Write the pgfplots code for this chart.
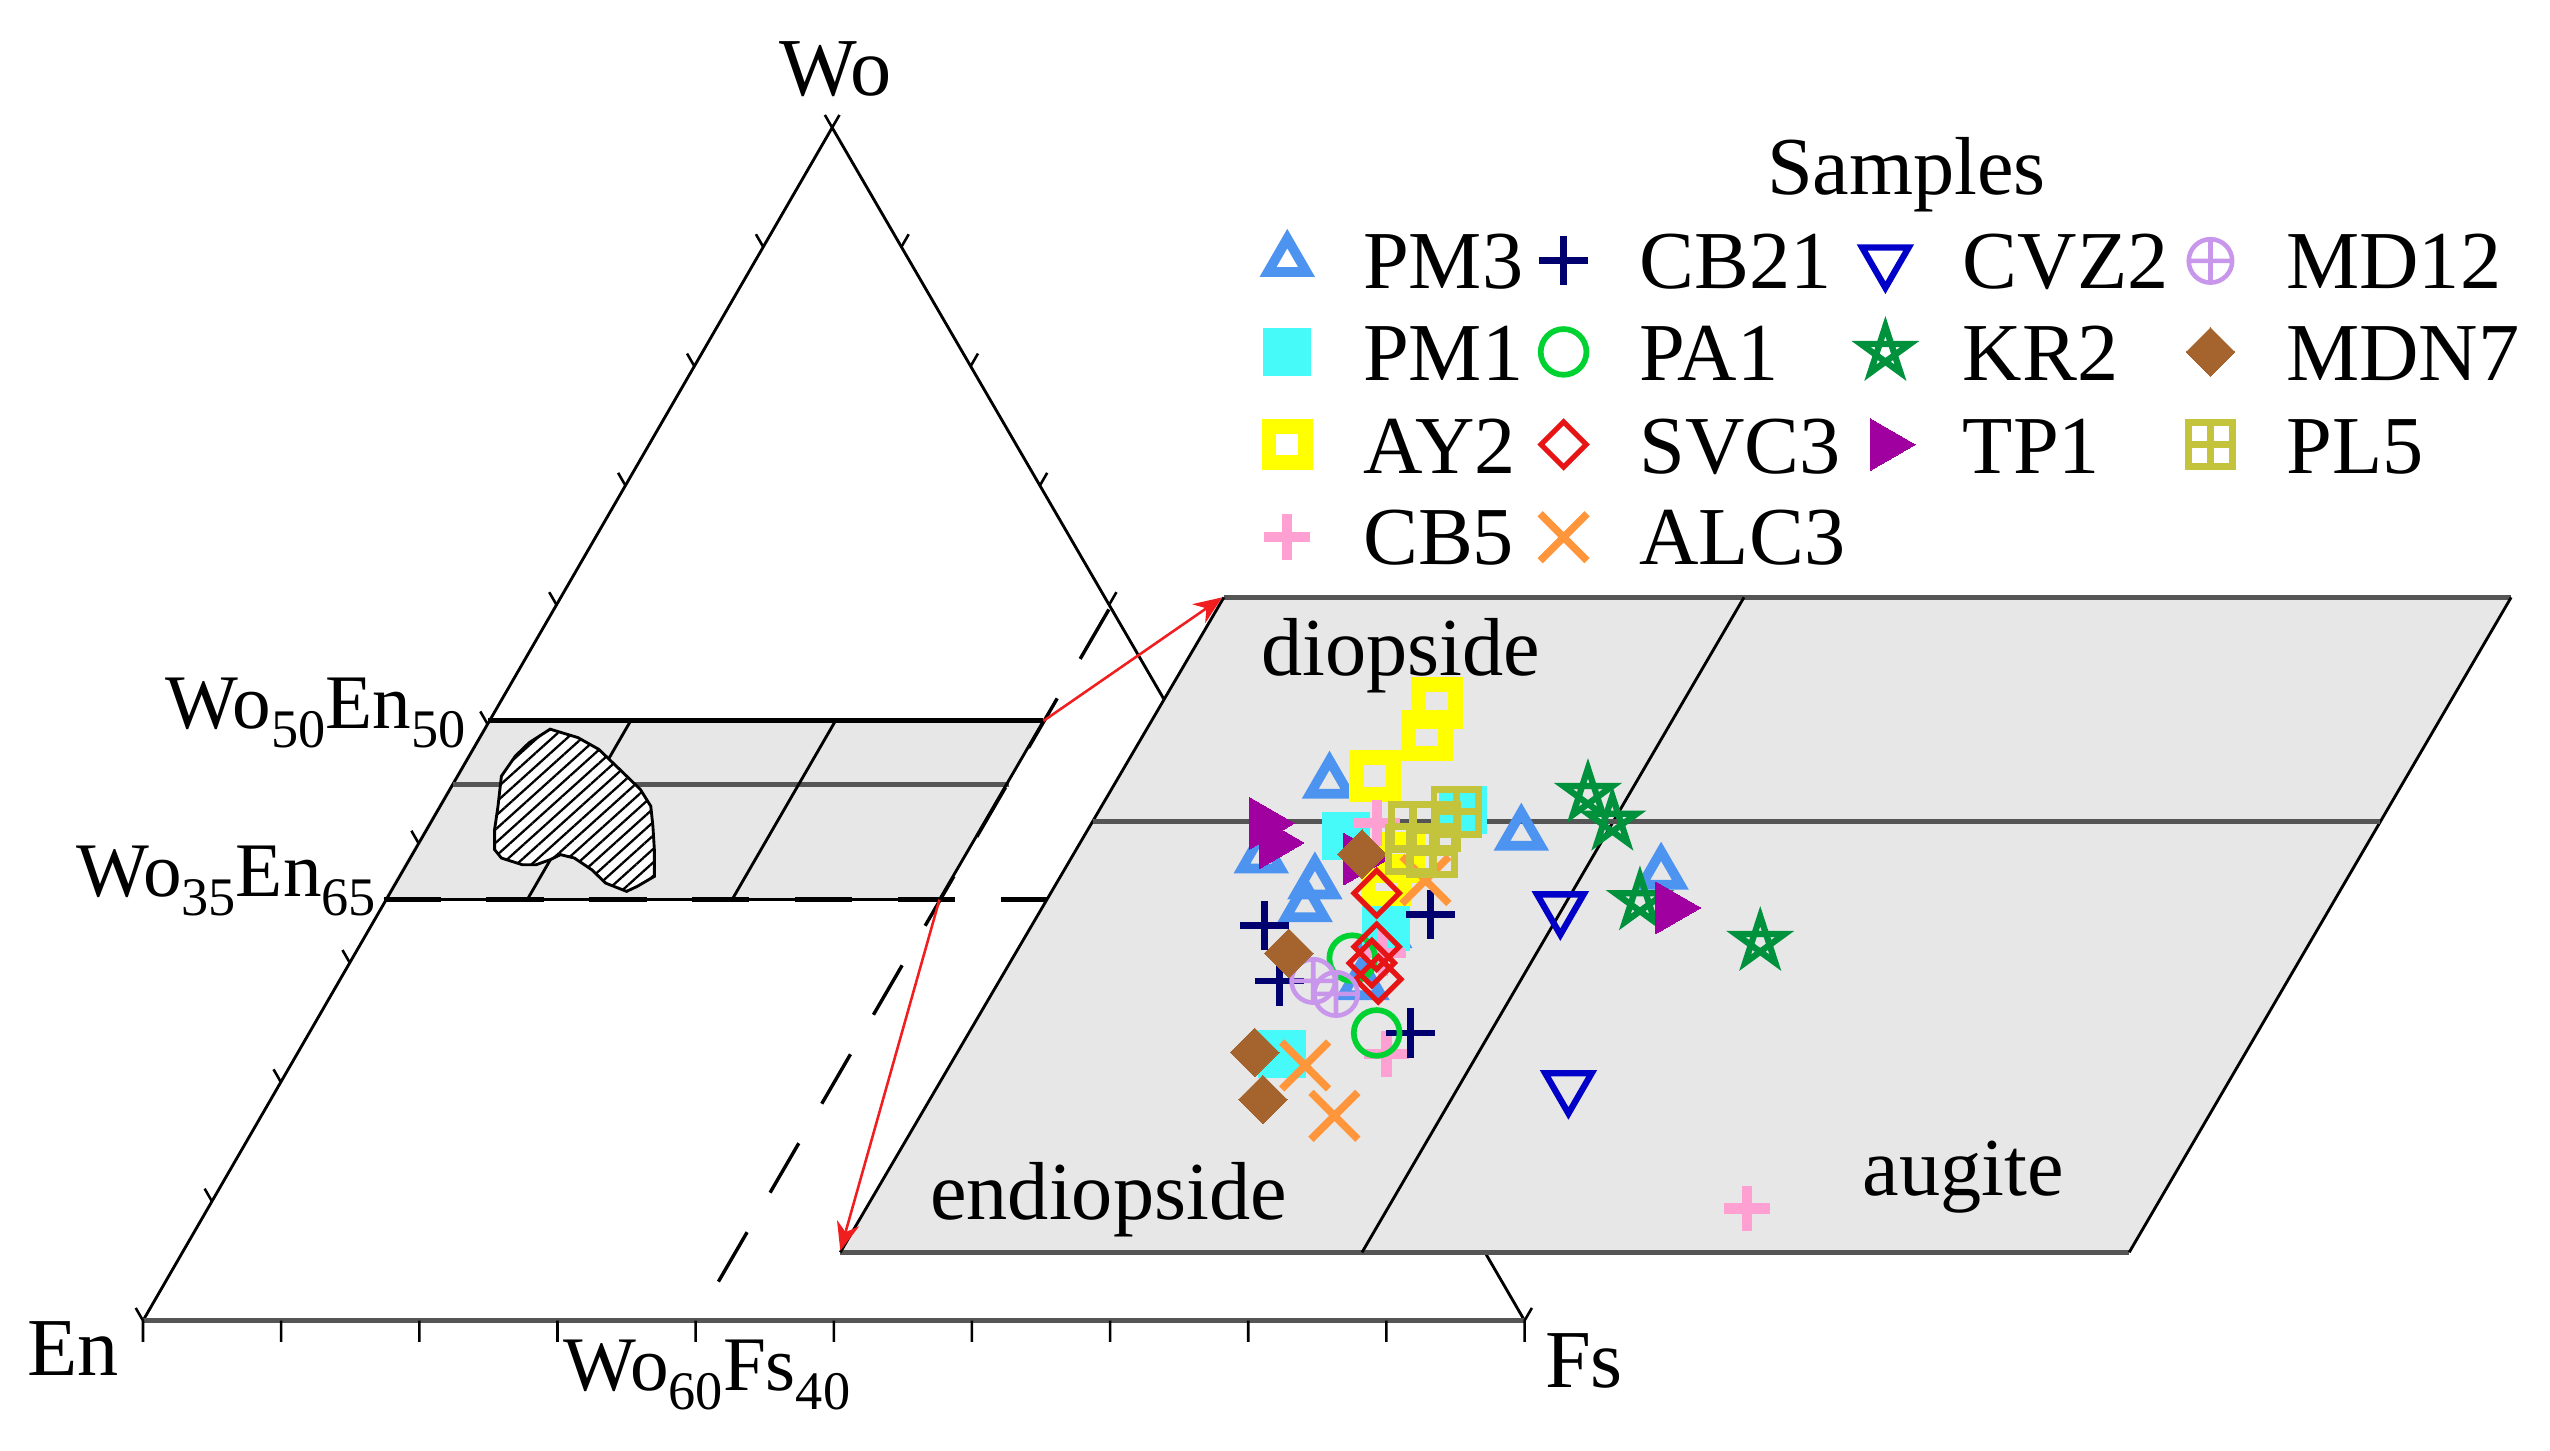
\documentclass[border=0pt]{standalone}
\usepackage{pgfplots}
\pgfplotsset{compat=1.18}
\usepackage{fontspec}
\setmainfont{Liberation Serif}
\usetikzlibrary{arrows.meta,patterns.meta}

\definecolor{boxgray}{RGB}{231,231,231}
\definecolor{edgegray}{RGB}{85,85,85}
\definecolor{arrowred}{RGB}{240,30,30}
\definecolor{cPM3}{RGB}{77,148,240}
\definecolor{cPM1}{RGB}{70,250,250}
\definecolor{cAY2}{RGB}{255,255,0}
\definecolor{cCB5}{RGB}{255,160,210}
\definecolor{cCB21}{RGB}{0,0,110}
\definecolor{cPA1}{RGB}{0,210,50}
\definecolor{cSVC3}{RGB}{230,20,20}
\definecolor{cALC3}{RGB}{255,150,60}
\definecolor{cCVZ2}{RGB}{0,0,200}
\definecolor{cKR2}{RGB}{0,145,60}
\definecolor{cTP1}{RGB}{160,0,160}
\definecolor{cMD12}{RGB}{200,150,235}
\definecolor{cMDN7}{RGB}{165,100,45}
\definecolor{cPL5}{RGB}{195,195,60}

\pgfdeclareplotmark{pentagram}{%
  \pgfpathmoveto{\pgfpointpolar{90}{\pgfplotmarksize}}%
  \pgfpathlineto{\pgfpointpolar{234}{\pgfplotmarksize}}%
  \pgfpathlineto{\pgfpointpolar{18}{\pgfplotmarksize}}%
  \pgfpathlineto{\pgfpointpolar{162}{\pgfplotmarksize}}%
  \pgfpathlineto{\pgfpointpolar{306}{\pgfplotmarksize}}%
  \pgfpathclose
  \pgfusepathqstroke
}
\pgfdeclareplotmark{boxplus}{%
  \pgfpathrectangle{\pgfpoint{-\pgfplotmarksize}{-\pgfplotmarksize}}{\pgfpoint{2\pgfplotmarksize}{2\pgfplotmarksize}}%
  \pgfpathmoveto{\pgfpoint{-\pgfplotmarksize}{0pt}}\pgfpathlineto{\pgfpoint{\pgfplotmarksize}{0pt}}%
  \pgfpathmoveto{\pgfpoint{0pt}{-\pgfplotmarksize}}\pgfpathlineto{\pgfpoint{0pt}{\pgfplotmarksize}}%
  \pgfusepathqstroke
}

\pgfplotsset{
  sPM3/.style={only marks, mark=triangle, mark size=3.9pt, color=cPM3, mark options={line width=1.7pt}},
  sPM1/.style={only marks, mark=square*, mark size=4.1pt, color=cPM1, mark options={line width=0pt}},
  sAY2/.style={only marks, mark=square, mark size=3.2pt, color=cAY2, mark options={line width=2.6pt}},
  sCB5/.style={only marks, mark=+, mark size=4.0pt, color=cCB5, mark options={line width=1.8pt}},
  sCB21/.style={only marks, mark=+, mark size=4.3pt, color=cCB21, mark options={line width=1.2pt}},
  sPA1/.style={only marks, mark=o, mark size=4pt, color=cPA1, mark options={line width=1pt}},
  sSVC3/.style={only marks, mark=square, mark size=2.8pt, color=cSVC3, mark options={rotate=45, line width=0.9pt}},
  sALC3/.style={only marks, mark=x, mark size=5.8pt, color=cALC3, mark options={line width=1.3pt}},
  sCVZ2/.style={only marks, mark=triangle, mark size=4.7pt, color=cCVZ2, mark options={rotate=180, line width=1.1pt}},
  sKR2/.style={only marks, mark=pentagram, mark size=4.5pt, color=cKR2, mark options={line width=1.1pt}},
  sTP1/.style={only marks, mark=triangle*, mark size=5.2pt, color=cTP1, mark options={rotate=-90, line width=0pt}},
  sMD12/.style={only marks, mark=oplus, mark size=3.8pt, color=cMD12, mark options={line width=0.8pt}},
  sMDN7/.style={only marks, mark=square*, mark size=3.0pt, color=cMDN7, mark options={rotate=45, line width=0pt}},
  sPL5/.style={only marks, mark=boxplus, mark size=3.9pt, color=cPL5, mark options={line width=1.2pt}},
}

\newcommand{\fs}{\fontsize{14.4}{17}\selectfont}
\newcommand{\fl}{\fontsize{13.5}{15}\selectfont}
\newcommand{\sub}[1]{\raisebox{-3.3pt}{\fontsize{9.5}{9.5}\selectfont #1}}

\begin{document}
\begin{tikzpicture}
\begin{axis}[at={(0,0)}, anchor=south west, x=0.01cm, y=0.01cm,
  xmin=0, xmax=1568, ymin=0, ymax=892, y dir=reverse,
  hide axis, clip=false]

% small box fill
\addplot[fill=boxgray, draw=none] coordinates {(236,553) (300,443) (642,443) (578,553)} -- cycle;

% triangle
\addplot[black, line width=0.5pt] coordinates {(88,812) (512,78) (938,812)};
\addplot[edgegray, line width=0.9pt] coordinates {(88,812) (938,812)};
% ticks
\addplot[black, line width=0.45pt, unbounded coords=jump] coordinates {
(88,812) (88,825) (nan,nan) (173,812) (173,825) (nan,nan) (258,812) (258,825) (nan,nan)
(343,812) (343,825) (nan,nan) (428,812) (428,825) (nan,nan) (513,812) (513,825) (nan,nan)
(598,812) (598,825) (nan,nan) (683,812) (683,825) (nan,nan) (768,812) (768,825) (nan,nan)
(853,812) (853,825) (nan,nan) (938,812) (938,825) (nan,nan)
(88,812) (83.5,804.2) (nan,nan) (130.4,738.6) (125.9,730.8) (nan,nan) (172.8,665.2) (168.3,657.4) (nan,nan)
(215.2,591.8) (210.7,584) (nan,nan) (257.6,518.4) (253.1,510.6) (nan,nan) (300,445) (295.5,437.2) (nan,nan)
(342.4,371.6) (337.9,363.8) (nan,nan) (384.8,298.2) (380.3,290.4) (nan,nan) (427.2,224.8) (422.7,217) (nan,nan)
(469.6,151.4) (465.1,143.6) (nan,nan) (512,78) (507.5,70.2) (nan,nan)
(938,812) (942.5,804.2) (nan,nan) (895.4,738.6) (899.9,730.8) (nan,nan) (682.4,371.6) (686.9,363.8) (nan,nan)
(639.8,298.2) (644.3,290.4) (nan,nan) (597.2,224.8) (601.7,217) (nan,nan) (554.6,151.4) (559.1,143.6) (nan,nan)
(512,78) (516.5,70.2)};

% small box lines
\addplot[black, line width=0.9pt] coordinates {(300,443) (642,443)};
\addplot[edgegray, line width=0.9pt] coordinates {(279,482) (621,482)};
\addplot[black, line width=0.6pt] coordinates {(236,553) (578,553)};
\addplot[black, line width=0.5pt] coordinates {(578,553) (642,443)};
\addplot[black, line width=0.5pt] coordinates {(388,443) (324.4,553)};
\addplot[black, line width=0.5pt] coordinates {(514,443) (450.4,553)};
% dashed lines
\addplot[black, line width=0.9pt, dash pattern=on 10pt off 8pt] coordinates {(236,553) (644,553)};
\addplot[black, line width=0.6pt, dash pattern=on 10pt off 8pt] coordinates {(442,788) (686,368)};

% hatched field (covers the lines beneath it)
\addplot[fill=white, draw=none] coordinates {
(338.5,448.1) (355.6,453.3) (368.4,460.5) (381.2,472.8) (394.0,485.2) (400.4,495.5) (401.7,507.8)
(402.6,522.2) (402.6,538.7) (391.9,544.9) (385.5,547.9) (372.6,542.8) (364.1,534.6) (353.4,527.4)
(344.9,525.3) (338.5,528.4) (329.9,531.5) (321.4,531.5) (308.5,527.4) (304.3,522.2) (304.3,509.9)
(306.4,495.5) (308.5,477) (317.1,464.6) (325.6,456.4)} -- cycle;
\addplot[draw=black, line width=0.5pt, pattern={Lines[angle=42, distance=1.75pt, line width=0.4pt]}] coordinates {
(338.5,448.1) (355.6,453.3) (368.4,460.5) (381.2,472.8) (394.0,485.2) (400.4,495.5) (401.7,507.8)
(402.6,522.2) (402.6,538.7) (391.9,544.9) (385.5,547.9) (372.6,542.8) (364.1,534.6) (353.4,527.4)
(344.9,525.3) (338.5,528.4) (329.9,531.5) (321.4,531.5) (308.5,527.4) (304.3,522.2) (304.3,509.9)
(306.4,495.5) (308.5,477) (317.1,464.6) (325.6,456.4)} -- cycle;

% big parallelogram
\addplot[fill=boxgray, draw=none] coordinates {(517,770) (753,367) (1545,367) (1310,770)} -- cycle;
\addplot[edgegray, line width=0.9pt] coordinates {(753,367) (1545,367)};
\addplot[edgegray, line width=0.9pt] coordinates {(517,770) (1310,770)};
\addplot[black, line width=0.5pt] coordinates {(517,770) (753,367)};
\addplot[black, line width=0.5pt] coordinates {(1310,770) (1545,367)};
\addplot[black, line width=0.5pt] coordinates {(838,770) (1073,367)};
\addplot[edgegray, line width=0.8pt] coordinates {(672.2,505) (1464.5,505)};

% red arrows
\addplot[arrowred, line width=0.45pt, -{Stealth[length=5pt, width=4pt]}] coordinates {(642,443) (752,367)};
\addplot[arrowred, line width=0.45pt, -{Stealth[length=5pt, width=4pt]}] coordinates {(578,553) (517,769)};

% texts
\node[anchor=base, inner sep=0] at (axis cs:514,58) {\fs Wo};
\node[anchor=base west, inner sep=0] at (axis cs:16,846) {\fs En};
\node[anchor=base west, inner sep=0] at (axis cs:950,853) {\fs Fs};
\node[anchor=base east, inner sep=0] at (axis cs:287,448) {\fl Wo\sub{50}En\sub{50}};
\node[anchor=base east, inner sep=0] at (axis cs:232,551) {\fl Wo\sub{35}En\sub{65}};
\node[anchor=base west, inner sep=0] at (axis cs:346,855) {\fl Wo\sub{60}Fs\sub{40}};
\node[anchor=base, inner sep=0] at (axis cs:862,415) {\fs diopside};
\node[anchor=base, inner sep=0] at (axis cs:682,750) {\fs endiopside};
\node[anchor=base, inner sep=0] at (axis cs:1208,735) {\fs augite};
\node[anchor=base, inner sep=0] at (axis cs:1173,119) {\fs Samples};

% data
\addplot[sPM3] coordinates {(818,481) (936,513) (776,527) (809,543) (803,557) (1022,537) (852,573) (838,605)};
\addplot[sPM1] coordinates {(828,514) (853,570) (900,498) (789,648)};
\addplot[sAY2] coordinates {(884,432) (878,452) (846,477) (853,541) (861,527)};
\addplot[sCB5] coordinates {(847,506) (851,586) (853,648) (1075,743)};
\addplot[sCB21] coordinates {(778,569) (880,562) (787,603) (868,635)};
\addplot[sPA1] coordinates {(832,589) (847,635)};
\addplot[sSVC3] coordinates {(847,549) (847,582) (844,592) (848,602)};
\addplot[sALC3] coordinates {(877,541) (803,655) (821,686)};
\addplot[sCVZ2] coordinates {(960,558) (965,668)};
\addplot[sKR2] coordinates {(977,488) (992,505) (1009,554) (1083,579)};
\addplot[sTP1] coordinates {(778,506) (784,518) (836,528) (1028,558)};
\addplot[sMD12] coordinates {(808,603) (822,611)};
\addplot[sMDN7] coordinates {(838,525) (793,586) (772,647) (777,676)};
\addplot[sPL5] coordinates {(896,499) (870,508) (883,508) (868,522) (881,524)};

% legend
\addplot[sPM3] coordinates {(792,160)};
\addplot[sPM1] coordinates {(792,216)};
\addplot[sAY2] coordinates {(792,273)};
\addplot[sCB5] coordinates {(792,330)};
\addplot[sCB21] coordinates {(962,160)};
\addplot[sPA1] coordinates {(962,216)};
\addplot[sSVC3] coordinates {(962,273)};
\addplot[sALC3] coordinates {(962,330)};
\addplot[sCVZ2] coordinates {(1160,160)};
\addplot[sKR2] coordinates {(1160,216)};
\addplot[sTP1] coordinates {(1160,273)};
\addplot[sMD12] coordinates {(1360,160)};
\addplot[sMDN7] coordinates {(1360,216)};
\addplot[sPL5] coordinates {(1360,273)};
\node[anchor=base west, inner sep=0] at (axis cs:838,177) {\fs PM3};
\node[anchor=base west, inner sep=0] at (axis cs:838,233.5) {\fs PM1};
\node[anchor=base west, inner sep=0] at (axis cs:838,290.5) {\fs AY2};
\node[anchor=base west, inner sep=0] at (axis cs:838,347) {\fs CB5};
\node[anchor=base west, inner sep=0] at (axis cs:1008,177) {\fs CB21};
\node[anchor=base west, inner sep=0] at (axis cs:1008,233.5) {\fs PA1};
\node[anchor=base west, inner sep=0] at (axis cs:1008,290.5) {\fs SVC3};
\node[anchor=base west, inner sep=0] at (axis cs:1008,347) {\fs ALC3};
\node[anchor=base west, inner sep=0] at (axis cs:1207,177) {\fs CVZ2};
\node[anchor=base west, inner sep=0] at (axis cs:1207,233.5) {\fs KR2};
\node[anchor=base west, inner sep=0] at (axis cs:1207,290.5) {\fs TP1};
\node[anchor=base west, inner sep=0] at (axis cs:1406,177) {\fs MD12};
\node[anchor=base west, inner sep=0] at (axis cs:1406,233.5) {\fs MDN7};
\node[anchor=base west, inner sep=0] at (axis cs:1406,290.5) {\fs PL5};
\end{axis}
\pgfresetboundingbox
\useasboundingbox (0,0) rectangle (15.68cm,8.92cm);
\end{tikzpicture}
\end{document}
